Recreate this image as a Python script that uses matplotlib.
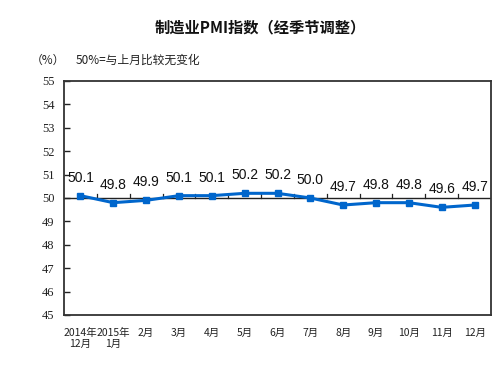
import matplotlib.pyplot as plt

plt.rcParams['font.family'] = ['Noto Sans CJK SC', 'DejaVu Sans']

months = ['2014年\n12月', '2015年\n1月', '2月', '3月', '4月', '5月', '6月',
          '7月', '8月', '9月', '10月', '11月', '12月']
pmi = [50.1, 49.8, 49.9, 50.1, 50.1, 50.2, 50.2, 50.0, 49.7, 49.8, 49.8, 49.6, 49.7]
yticks = [45, 46, 47, 48, 49, 50, 51, 52, 53, 54, 55]

fig = plt.figure(figsize=(4.98, 3.67), dpi=100)
ax = fig.add_axes([0.1285, 0.1417, 0.8575, 0.6376])

x = list(range(len(months)))
ax.plot(x, pmi, color='#0066CC', lw=2.2, marker='s', ms=4.5, zorder=3)

for i, v in enumerate(pmi):
    ax.annotate(f'{v:.1f}', (i, v), xytext=(0, 13), textcoords='offset points',
                ha='center', va='center', fontsize=10, family='Liberation Sans',
                color='#111111')

# 50 reference line with small ticks between months
ax.axhline(50, color='#222222', lw=1, zorder=2)
for b in range(len(months) - 1):
    ax.plot([b + 0.5, b + 0.5], [50, 50.15], color='#222222', lw=0.9, zorder=2)

ax.set_xlim(-0.5, len(months) - 0.5)
ax.set_ylim(45, 55)
ax.set_yticks(yticks)
ax.set_yticklabels([str(t) for t in yticks], family='Liberation Serif', fontsize=9)
ax.tick_params(axis='y', direction='in', length=4, width=1, pad=7, colors='#222222')
ax.set_xticks(x)
ax.set_xticklabels(months, fontsize=7.5)
ax.tick_params(axis='x', length=0, pad=9, colors='#222222')
for s in ax.spines.values():
    s.set_color('#333333')
    s.set_linewidth(1.3)

fig.text(0.522, 0.926, '制造业PMI指数（经季节调整）', ha='center', va='center',
         fontsize=11, weight='bold', color='#111111')
fig.text(0.062, 0.827, '（%）', ha='left', va='baseline', fontsize=8.5, color='#222222')
fig.text(0.151, 0.827, '50%=与上月比较无变化', ha='left', va='baseline', fontsize=8.5,
         color='#222222')

fig.savefig('out.png', dpi=100)
